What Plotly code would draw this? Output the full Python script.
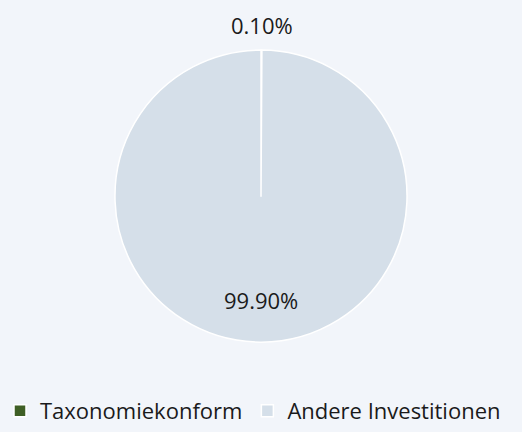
import math
import plotly.graph_objects as go

labels = ["Taxonomiekonform", "Andere Investitionen"]
values = [0.10, 99.90]
colors = ["#3f5f25", "#d5dfe9"]
inside_flags = [False, True]

W, H = 522, 432
dom_y = [0.208, 0.884]
dom_x = [0.0, 1.0]

fig = go.Figure(go.Pie(
    labels=labels,
    values=values,
    sort=False,
    direction="clockwise",
    rotation=0,
    marker=dict(colors=colors, line=dict(color="#ffffff", width=1.5)),
    textinfo="none",
    domain=dict(x=dom_x, y=dom_y),
    hoverinfo="label+percent",
))

# percentage labels placed at each slice's mid-angle
cx = (dom_x[0] + dom_x[1]) / 2
cy = (dom_y[0] + dom_y[1]) / 2
r_px = min((dom_x[1] - dom_x[0]) * W, (dom_y[1] - dom_y[0]) * H) / 2
total = sum(values)
cum = 0.0
for v, inside in zip(values, inside_flags):
    theta = 2 * math.pi * (cum + v / 2) / total
    cum += v
    rr = 0.71 * r_px if inside else r_px + 25
    fig.add_annotation(
        x=cx + rr * math.sin(theta) / W,
        y=cy + rr * math.cos(theta) / H,
        xref="paper", yref="paper",
        text=f"{v / total * 100:.2f}%",
        showarrow=False,
        xanchor="center", yanchor="middle",
        font=dict(family="Open Sans", size=22, color="#1a1a1a"),
    )

fig.update_layout(
    width=W, height=H,
    margin=dict(l=0, r=0, t=0, b=0),
    paper_bgcolor="#f2f5fa",
    plot_bgcolor="#f2f5fa",
    font=dict(family="Open Sans", size=22, color="#1a1a1a"),
    showlegend=True,
    legend=dict(orientation="h", xref="paper", yref="paper",
                x=0.0, xanchor="left", y=0.0, yanchor="bottom",
                font=dict(size=22), itemwidth=30,
                bgcolor="rgba(0,0,0,0)"),
)

fig.write_html(
    "out.html",
    config={"displayModeBar": False},
    post_script="document.body.style.margin='0';document.documentElement.style.overflow='hidden';",
)
